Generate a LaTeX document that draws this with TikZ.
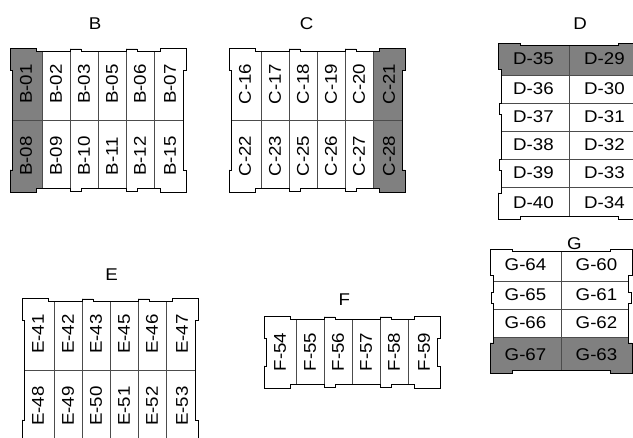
\documentclass[tikz,border=0pt]{standalone}
\usepackage{fontspec}
\setmainfont{Liberation Sans}[FakeStretch=1.1]
\usepackage{graphicx}
\usepackage{tikz}
\usetikzlibrary{positioning}

% upright label inside a column cell
\newcommand{\vtext}[1]{\rotatebox{90}{#1}}
% notched contour of a block of six columns (left x, top y, height)
\newcommand{\colshape}[3]{(#1,#2) -- ++(26,0) -- ++(0,3.5) -- ++(34,0) -- ++(0,-2.5) -- ++(11,0) -- ++(0,2.5) -- ++(45,0) -- ++(0,-2.5) -- ++(11,0) -- ++(0,2.5) -- ++(23,0) -- ++(0,-3.5) -- ++(26,0) -- ++(0,22) -- ++(-2.3,0) -- ++(0,{#3-44}) -- ++(2.3,0) -- ++(0,22) -- ++(-26,0) -- ++(0,-3.5) -- ++(-23,0) -- ++(0,2.5) -- ++(-11,0) -- ++(0,-2.5) -- ++(-45,0) -- ++(0,2.5) -- ++(-11,0) -- ++(0,-2.5) -- ++(-34,0) -- ++(0,3.5) -- ++(-26,0) -- ++(0,-22) -- ++(2.3,0) -- ++(0,{-(#3-44)}) -- ++(-2.3,0) -- cycle}
% notched contour of a block of six rows (left x, top y, width)
\newcommand{\rowshape}[3]{(#1,#2) -- ++(0,26) -- ++(3.5,0) -- ++(0,34) -- ++(-2.5,0) -- ++(0,11) -- ++(2.5,0) -- ++(0,45) -- ++(-2.5,0) -- ++(0,11) -- ++(2.5,0) -- ++(0,23) -- ++(-3.5,0) -- ++(0,26) -- ++(22,0) -- ++(0,-2.3) -- ++({#3-44},0) -- ++(0,2.3) -- ++(22,0) -- ++(0,-26) -- ++(-3.5,0) -- ++(0,-23) -- ++(2.5,0) -- ++(0,-11) -- ++(-2.5,0) -- ++(0,-45) -- ++(2.5,0) -- ++(0,-11) -- ++(-2.5,0) -- ++(0,-34) -- ++(3.5,0) -- ++(0,-26) -- ++(-22,0) -- ++(0,2.3) -- ++({-(#3-44)},0) -- ++(0,-2.3) -- cycle}
% contour of block G (four rows)
\newcommand{\gshape}{(490,249) -- (512,249) -- (512,251.3) -- (610,251.3) -- (610,249) -- (632,249) -- (632,275) -- (628.5,275) -- (628.5,292) -- (631,292) -- (631,303) -- (628.5,303) -- (628.5,343) -- (632,343) -- (632,373) -- (610,373) -- (610,370.7) -- (512,370.7) -- (512,373) -- (490,373) -- (490,343) -- (493.5,343) -- (493.5,303) -- (491,303) -- (491,292) -- (493.5,292) -- (493.5,275) -- (490,275) -- cycle}

\begin{document}
\begin{tikzpicture}[
    x=1pt, y=-1pt,
    cell/.style={rectangle, draw=black!70, line width=0.8pt, inner sep=0pt, outer sep=0pt, minimum width=28pt, minimum height=72pt, font=\fontsize{17}{20}\selectfont},
    endcell/.style={cell, minimum width=32pt},
    rowcell/.style={cell, minimum width=71pt, minimum height=28pt},
    endrow/.style={rowcell, minimum height=32pt},
    darkcell/.style={fill=black!50},
    contour/.style={draw=black, line width=0.9pt},
    blocktitle/.style={inner sep=0pt, font=\fontsize{17}{20}\selectfont}
]
\useasboundingbox (0,0) rectangle (633,438);
\clip (0,0) rectangle (633,438);

% Block B
\node [blocktitle] (titleB) at (95,24) {B};
\begin{scope}
\clip \colshape{10}{48}{144};
\node [endcell, darkcell, anchor=north west] (b01) at (10,48) {\vtext{B-01}};
\node [cell, right=0pt of b01] (b02) {\vtext{B-02}};
\node [cell, right=0pt of b02] (b03) {\vtext{B-03}};
\node [cell, right=0pt of b03] (b05) {\vtext{B-05}};
\node [cell, right=0pt of b05] (b06) {\vtext{B-06}};
\node [endcell, right=0pt of b06] (b07) {\vtext{B-07}};
\node [endcell, darkcell, below=0pt of b01] (b08) {\vtext{B-08}};
\node [cell, right=0pt of b08] (b09) {\vtext{B-09}};
\node [cell, right=0pt of b09] (b10) {\vtext{B-10}};
\node [cell, right=0pt of b10] (b11) {\vtext{B-11}};
\node [cell, right=0pt of b11] (b12) {\vtext{B-12}};
\node [endcell, right=0pt of b12] (b15) {\vtext{B-15}};
\end{scope}
\draw [contour] \colshape{10}{48}{144};

% Block C
\node [blocktitle] (titleC) at (306.7,24) {C};
\begin{scope}
\clip \colshape{229}{48}{144};
\node [endcell, anchor=north west] (c16) at (229,48) {\vtext{C-16}};
\node [cell, right=0pt of c16] (c17) {\vtext{C-17}};
\node [cell, right=0pt of c17] (c18) {\vtext{C-18}};
\node [cell, right=0pt of c18] (c19) {\vtext{C-19}};
\node [cell, right=0pt of c19] (c20) {\vtext{C-20}};
\node [endcell, darkcell, right=0pt of c20] (c21) {\vtext{C-21}};
\node [endcell, below=0pt of c16] (c22) {\vtext{C-22}};
\node [cell, right=0pt of c22] (c23) {\vtext{C-23}};
\node [cell, right=0pt of c23] (c25) {\vtext{C-25}};
\node [cell, right=0pt of c25] (c26) {\vtext{C-26}};
\node [cell, right=0pt of c26] (c27) {\vtext{C-27}};
\node [endcell, darkcell, right=0pt of c27] (c28) {\vtext{C-28}};
\end{scope}
\draw [contour] \colshape{229}{48}{144};

% Block D
\node [blocktitle] (titleD) at (580,24) {D};
\begin{scope}
\clip \rowshape{498}{43}{142};
\node [endrow, darkcell, anchor=north west] (d35) at (498,43) {D-35};
\node [endrow, darkcell, right=0pt of d35] (d29) {D-29};
\node [rowcell, below=0pt of d35] (d36) {D-36};
\node [rowcell, right=0pt of d36] (d30) {D-30};
\node [rowcell, below=0pt of d36] (d37) {D-37};
\node [rowcell, right=0pt of d37] (d31) {D-31};
\node [rowcell, below=0pt of d37] (d38) {D-38};
\node [rowcell, right=0pt of d38] (d32) {D-32};
\node [rowcell, below=0pt of d38] (d39) {D-39};
\node [rowcell, right=0pt of d39] (d33) {D-33};
\node [endrow, below=0pt of d39] (d40) {D-40};
\node [endrow, right=0pt of d40] (d34) {D-34};
\end{scope}
\draw [contour] \rowshape{498}{43}{142};

% Block E
\node [blocktitle] (titleE) at (111.7,275) {E};
\begin{scope}
\clip \colshape{22}{298}{144};
\node [endcell, anchor=north west] (e41) at (22,298) {\vtext{E-41}};
\node [cell, right=0pt of e41] (e42) {\vtext{E-42}};
\node [cell, right=0pt of e42] (e43) {\vtext{E-43}};
\node [cell, right=0pt of e43] (e45) {\vtext{E-45}};
\node [cell, right=0pt of e45] (e46) {\vtext{E-46}};
\node [endcell, right=0pt of e46] (e47) {\vtext{E-47}};
\node [endcell, below=0pt of e41] (e48) {\vtext{E-48}};
\node [cell, right=0pt of e48] (e49) {\vtext{E-49}};
\node [cell, right=0pt of e49] (e50) {\vtext{E-50}};
\node [cell, right=0pt of e50] (e51) {\vtext{E-51}};
\node [cell, right=0pt of e51] (e52) {\vtext{E-52}};
\node [endcell, right=0pt of e52] (e53) {\vtext{E-53}};
\end{scope}
\draw [contour] \colshape{22}{298}{144};

% Block F
\node [blocktitle] (titleF) at (344.3,300) {F};
\begin{scope}
\clip \colshape{264}{316}{72};
\node [endcell, anchor=north west] (f54) at (264,316) {\vtext{F-54}};
\node [cell, right=0pt of f54] (f55) {\vtext{F-55}};
\node [cell, right=0pt of f55] (f56) {\vtext{F-56}};
\node [cell, right=0pt of f56] (f57) {\vtext{F-57}};
\node [cell, right=0pt of f57] (f58) {\vtext{F-58}};
\node [endcell, right=0pt of f58] (f59) {\vtext{F-59}};
\end{scope}
\draw [contour] \colshape{264}{316}{72};

% Block G
\node [blocktitle] (titleG) at (574.3,243.3) {G};
\begin{scope}
\clip \gshape;
\node [endrow, anchor=north west] (g64) at (490,249) {G-64};
\node [endrow, right=0pt of g64] (g60) {G-60};
\node [rowcell, below=0pt of g64] (g65) {G-65};
\node [rowcell, right=0pt of g65] (g61) {G-61};
\node [rowcell, below=0pt of g65] (g66) {G-66};
\node [rowcell, right=0pt of g66] (g62) {G-62};
\node [rowcell, darkcell, minimum height=36pt, below=0pt of g66] (g67) {G-67};
\node [rowcell, darkcell, minimum height=36pt, right=0pt of g67] (g63) {G-63};
\end{scope}
\draw [contour] \gshape;

\end{tikzpicture}
\end{document}
